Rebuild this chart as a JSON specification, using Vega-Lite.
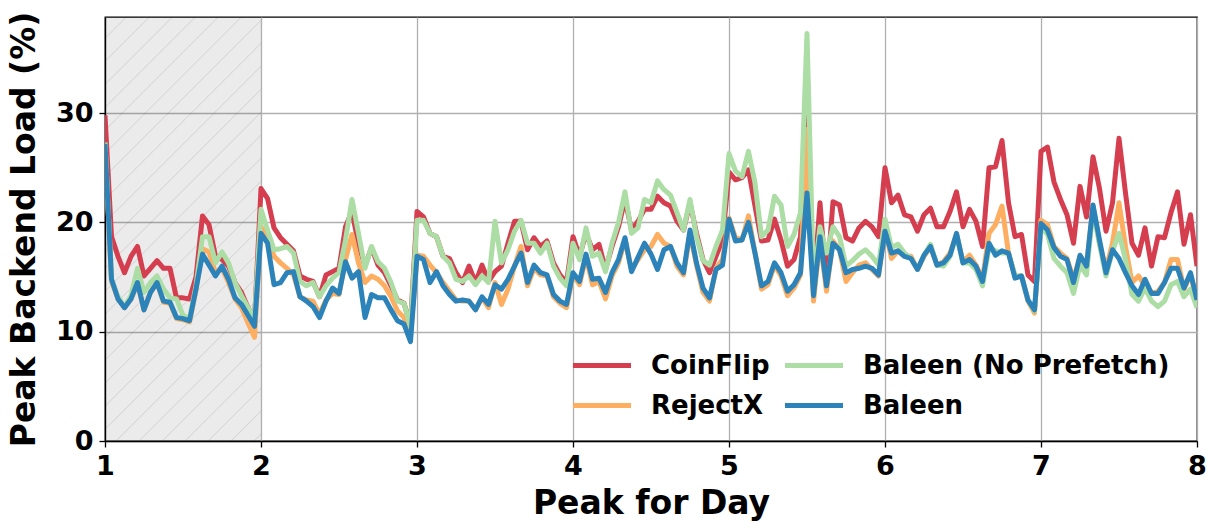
{
  "$schema": "https://vega.github.io/schema/vega-lite/v6.json",
  "width": 1092,
  "height": 424,
  "autosize": {"type": "none"},
  "padding": {"left": 105, "top": 17, "right": 15, "bottom": 82},
  "background": "white",
  "config": {
    "font": "DejaVu Sans",
    "view": {"stroke": "black", "strokeWidth": 1.3},
    "axis": {
      "domainColor": "black",
      "domainWidth": 1.3,
      "tickColor": "black",
      "tickWidth": 1.3,
      "tickSize": 6,
      "labelColor": "black",
      "labelFont": "DejaVu Sans",
      "labelFontWeight": "bold",
      "labelFontSize": 27,
      "labelFlush": false,
      "titleColor": "black",
      "titleFont": "DejaVu Sans",
      "titleFontWeight": "bold",
      "titleFontSize": 33,
      "gridColor": "#b0b0b0",
      "gridWidth": 1.3
    }
  },
  "layer": [
    {
      "data": {"values": [{"start": 0, "end": 24}]},
      "mark": {
        "type": "rect",
        "fill": {
          "gradient": "linear",
          "x1": 0, "y1": 0, "x2": 0.4433, "y2": 1.2048,
          "stops": [
            {"offset": 0, "color": "rgba(0,0,0,0.08)"},
            {"offset": 0.0349, "color": "rgba(0,0,0,0.08)"}, {"offset": 0.0369, "color": "rgba(0,0,0,0.17)"}, {"offset": 0.0389, "color": "rgba(0,0,0,0.08)"},
            {"offset": 0.0745, "color": "rgba(0,0,0,0.08)"}, {"offset": 0.0765, "color": "rgba(0,0,0,0.17)"}, {"offset": 0.0785, "color": "rgba(0,0,0,0.08)"},
            {"offset": 0.1142, "color": "rgba(0,0,0,0.08)"}, {"offset": 0.1162, "color": "rgba(0,0,0,0.17)"}, {"offset": 0.1182, "color": "rgba(0,0,0,0.08)"},
            {"offset": 0.1538, "color": "rgba(0,0,0,0.08)"}, {"offset": 0.1558, "color": "rgba(0,0,0,0.17)"}, {"offset": 0.1578, "color": "rgba(0,0,0,0.08)"},
            {"offset": 0.1934, "color": "rgba(0,0,0,0.08)"}, {"offset": 0.1954, "color": "rgba(0,0,0,0.17)"}, {"offset": 0.1974, "color": "rgba(0,0,0,0.08)"},
            {"offset": 0.2331, "color": "rgba(0,0,0,0.08)"}, {"offset": 0.2351, "color": "rgba(0,0,0,0.17)"}, {"offset": 0.2371, "color": "rgba(0,0,0,0.08)"},
            {"offset": 0.2727, "color": "rgba(0,0,0,0.08)"}, {"offset": 0.2747, "color": "rgba(0,0,0,0.17)"}, {"offset": 0.2767, "color": "rgba(0,0,0,0.08)"},
            {"offset": 0.3123, "color": "rgba(0,0,0,0.08)"}, {"offset": 0.3143, "color": "rgba(0,0,0,0.17)"}, {"offset": 0.3163, "color": "rgba(0,0,0,0.08)"},
            {"offset": 0.3519, "color": "rgba(0,0,0,0.08)"}, {"offset": 0.3539, "color": "rgba(0,0,0,0.17)"}, {"offset": 0.3559, "color": "rgba(0,0,0,0.08)"},
            {"offset": 0.3916, "color": "rgba(0,0,0,0.08)"}, {"offset": 0.3936, "color": "rgba(0,0,0,0.17)"}, {"offset": 0.3956, "color": "rgba(0,0,0,0.08)"},
            {"offset": 0.4312, "color": "rgba(0,0,0,0.08)"}, {"offset": 0.4332, "color": "rgba(0,0,0,0.17)"}, {"offset": 0.4352, "color": "rgba(0,0,0,0.08)"},
            {"offset": 0.4708, "color": "rgba(0,0,0,0.08)"}, {"offset": 0.4728, "color": "rgba(0,0,0,0.17)"}, {"offset": 0.4748, "color": "rgba(0,0,0,0.08)"},
            {"offset": 0.5105, "color": "rgba(0,0,0,0.08)"}, {"offset": 0.5125, "color": "rgba(0,0,0,0.17)"}, {"offset": 0.5145, "color": "rgba(0,0,0,0.08)"},
            {"offset": 0.5501, "color": "rgba(0,0,0,0.08)"}, {"offset": 0.5521, "color": "rgba(0,0,0,0.17)"}, {"offset": 0.5541, "color": "rgba(0,0,0,0.08)"},
            {"offset": 0.5897, "color": "rgba(0,0,0,0.08)"}, {"offset": 0.5917, "color": "rgba(0,0,0,0.17)"}, {"offset": 0.5937, "color": "rgba(0,0,0,0.08)"},
            {"offset": 0.6294, "color": "rgba(0,0,0,0.08)"}, {"offset": 0.6314, "color": "rgba(0,0,0,0.17)"}, {"offset": 0.6334, "color": "rgba(0,0,0,0.08)"},
            {"offset": 0.6690, "color": "rgba(0,0,0,0.08)"}, {"offset": 0.6710, "color": "rgba(0,0,0,0.17)"}, {"offset": 0.6730, "color": "rgba(0,0,0,0.08)"},
            {"offset": 0.7086, "color": "rgba(0,0,0,0.08)"}, {"offset": 0.7106, "color": "rgba(0,0,0,0.17)"}, {"offset": 0.7126, "color": "rgba(0,0,0,0.08)"},
            {"offset": 0.7482, "color": "rgba(0,0,0,0.08)"}, {"offset": 0.7502, "color": "rgba(0,0,0,0.17)"}, {"offset": 0.7522, "color": "rgba(0,0,0,0.08)"},
            {"offset": 0.7879, "color": "rgba(0,0,0,0.08)"}, {"offset": 0.7899, "color": "rgba(0,0,0,0.17)"}, {"offset": 0.7919, "color": "rgba(0,0,0,0.08)"},
            {"offset": 0.8275, "color": "rgba(0,0,0,0.08)"}, {"offset": 0.8295, "color": "rgba(0,0,0,0.17)"}, {"offset": 0.8315, "color": "rgba(0,0,0,0.08)"},
            {"offset": 0.8671, "color": "rgba(0,0,0,0.08)"}, {"offset": 0.8691, "color": "rgba(0,0,0,0.17)"}, {"offset": 0.8711, "color": "rgba(0,0,0,0.08)"},
            {"offset": 0.9068, "color": "rgba(0,0,0,0.08)"}, {"offset": 0.9088, "color": "rgba(0,0,0,0.17)"}, {"offset": 0.9108, "color": "rgba(0,0,0,0.08)"},
            {"offset": 0.9464, "color": "rgba(0,0,0,0.08)"}, {"offset": 0.9484, "color": "rgba(0,0,0,0.17)"}, {"offset": 0.9504, "color": "rgba(0,0,0,0.08)"},
            {"offset": 0.9860, "color": "rgba(0,0,0,0.08)"}, {"offset": 0.9880, "color": "rgba(0,0,0,0.17)"}, {"offset": 0.9900, "color": "rgba(0,0,0,0.08)"},
            {"offset": 1, "color": "rgba(0,0,0,0.08)"}
          ]
        }
      },
      "encoding": {
        "x": {"field": "start", "type": "quantitative"},
        "x2": {"field": "end"}
      }
    },
    {
      "data": {
        "values": [
          {"h": 0, "CoinFlip": 29.8, "RejectX": 27.3, "Baleen (No Prefetch)": 27.3, "Baleen": 27.2},
          {"h": 1, "CoinFlip": 18.7, "RejectX": 14.6, "Baleen (No Prefetch)": 14.8, "Baleen": 14.8},
          {"h": 2, "CoinFlip": 16.9, "RejectX": 13.0, "Baleen (No Prefetch)": 13.2, "Baleen": 13.0},
          {"h": 3, "CoinFlip": 15.4, "RejectX": 12.2, "Baleen (No Prefetch)": 12.3, "Baleen": 12.2},
          {"h": 4, "CoinFlip": 16.9, "RejectX": 13.0, "Baleen (No Prefetch)": 13.3, "Baleen": 13.0},
          {"h": 5, "CoinFlip": 17.8, "RejectX": 14.4, "Baleen (No Prefetch)": 15.8, "Baleen": 14.5},
          {"h": 6, "CoinFlip": 15.1, "RejectX": 12.0, "Baleen (No Prefetch)": 13.6, "Baleen": 12.0},
          {"h": 7, "CoinFlip": 15.8, "RejectX": 13.6, "Baleen (No Prefetch)": 14.5, "Baleen": 13.6},
          {"h": 8, "CoinFlip": 16.5, "RejectX": 14.5, "Baleen (No Prefetch)": 15.1, "Baleen": 14.5},
          {"h": 9, "CoinFlip": 15.8, "RejectX": 12.7, "Baleen (No Prefetch)": 13.9, "Baleen": 12.8},
          {"h": 10, "CoinFlip": 15.8, "RejectX": 12.6, "Baleen (No Prefetch)": 13.1, "Baleen": 12.7},
          {"h": 11, "CoinFlip": 13.1, "RejectX": 11.2, "Baleen (No Prefetch)": 13.0, "Baleen": 11.3},
          {"h": 12, "CoinFlip": 13.1, "RejectX": 11.1, "Baleen (No Prefetch)": 11.5, "Baleen": 11.2},
          {"h": 13, "CoinFlip": 13.0, "RejectX": 10.9, "Baleen (No Prefetch)": 11.2, "Baleen": 11.0},
          {"h": 14, "CoinFlip": 15.0, "RejectX": 13.8, "Baleen (No Prefetch)": 14.2, "Baleen": 13.9},
          {"h": 15, "CoinFlip": 20.6, "RejectX": 17.6, "Baleen (No Prefetch)": 18.7, "Baleen": 17.1},
          {"h": 16, "CoinFlip": 19.8, "RejectX": 17.3, "Baleen (No Prefetch)": 18.7, "Baleen": 16.1},
          {"h": 17, "CoinFlip": 16.9, "RejectX": 15.4, "Baleen (No Prefetch)": 16.3, "Baleen": 15.1},
          {"h": 18, "CoinFlip": 16.6, "RejectX": 15.8, "Baleen (No Prefetch)": 17.3, "Baleen": 16.0},
          {"h": 19, "CoinFlip": 16.0, "RejectX": 14.5, "Baleen (No Prefetch)": 16.3, "Baleen": 14.8},
          {"h": 20, "CoinFlip": 14.5, "RejectX": 13.0, "Baleen (No Prefetch)": 14.5, "Baleen": 13.1},
          {"h": 21, "CoinFlip": 13.6, "RejectX": 12.2, "Baleen (No Prefetch)": 13.3, "Baleen": 12.5},
          {"h": 22, "CoinFlip": 12.2, "RejectX": 10.8, "Baleen (No Prefetch)": 12.2, "Baleen": 11.5},
          {"h": 23, "CoinFlip": 11.0, "RejectX": 9.5, "Baleen (No Prefetch)": 11.2, "Baleen": 10.5},
          {"h": 24, "CoinFlip": 23.1, "RejectX": 19.6, "Baleen (No Prefetch)": 21.2, "Baleen": 19.0},
          {"h": 25, "CoinFlip": 22.2, "RejectX": 18.7, "Baleen (No Prefetch)": 19.3, "Baleen": 18.1},
          {"h": 26, "CoinFlip": 19.5, "RejectX": 16.9, "Baleen (No Prefetch)": 17.5, "Baleen": 14.3},
          {"h": 27, "CoinFlip": 18.6, "RejectX": 16.3, "Baleen (No Prefetch)": 17.6, "Baleen": 14.5},
          {"h": 28, "CoinFlip": 18.0, "RejectX": 15.8, "Baleen (No Prefetch)": 17.8, "Baleen": 15.4},
          {"h": 29, "CoinFlip": 17.4, "RejectX": 15.2, "Baleen (No Prefetch)": 17.2, "Baleen": 15.5},
          {"h": 30, "CoinFlip": 15.1, "RejectX": 13.2, "Baleen (No Prefetch)": 14.6, "Baleen": 13.2},
          {"h": 31, "CoinFlip": 14.8, "RejectX": 12.9, "Baleen (No Prefetch)": 14.2, "Baleen": 12.8},
          {"h": 32, "CoinFlip": 14.6, "RejectX": 12.8, "Baleen (No Prefetch)": 14.5, "Baleen": 12.3},
          {"h": 33, "CoinFlip": 13.2, "RejectX": 11.6, "Baleen (No Prefetch)": 13.2, "Baleen": 11.3},
          {"h": 34, "CoinFlip": 15.2, "RejectX": 12.9, "Baleen (No Prefetch)": 14.2, "Baleen": 12.8},
          {"h": 35, "CoinFlip": 15.5, "RejectX": 13.5, "Baleen (No Prefetch)": 14.9, "Baleen": 14.0},
          {"h": 36, "CoinFlip": 15.8, "RejectX": 13.4, "Baleen (No Prefetch)": 15.4, "Baleen": 13.5},
          {"h": 37, "CoinFlip": 19.6, "RejectX": 16.6, "Baleen (No Prefetch)": 18.4, "Baleen": 16.4},
          {"h": 38, "CoinFlip": 21.0, "RejectX": 18.9, "Baleen (No Prefetch)": 22.1, "Baleen": 14.9},
          {"h": 39, "CoinFlip": 18.0, "RejectX": 16.3, "Baleen (No Prefetch)": 19.0, "Baleen": 15.5},
          {"h": 40, "CoinFlip": 16.0, "RejectX": 14.5, "Baleen (No Prefetch)": 15.8, "Baleen": 11.3},
          {"h": 41, "CoinFlip": 17.7, "RejectX": 15.1, "Baleen (No Prefetch)": 17.8, "Baleen": 13.4},
          {"h": 42, "CoinFlip": 16.1, "RejectX": 14.8, "Baleen (No Prefetch)": 16.4, "Baleen": 13.1},
          {"h": 43, "CoinFlip": 15.4, "RejectX": 14.2, "Baleen (No Prefetch)": 15.8, "Baleen": 13.1},
          {"h": 44, "CoinFlip": 14.2, "RejectX": 13.2, "Baleen (No Prefetch)": 14.5, "Baleen": 12.0},
          {"h": 45, "CoinFlip": 12.9, "RejectX": 11.9, "Baleen (No Prefetch)": 12.8, "Baleen": 11.0},
          {"h": 46, "CoinFlip": 12.6, "RejectX": 11.3, "Baleen (No Prefetch)": 12.6, "Baleen": 10.7},
          {"h": 47, "CoinFlip": 10.6, "RejectX": 9.7, "Baleen (No Prefetch)": 10.5, "Baleen": 9.1},
          {"h": 48, "CoinFlip": 21.0, "RejectX": 17.0, "Baleen (No Prefetch)": 20.2, "Baleen": 16.9},
          {"h": 49, "CoinFlip": 20.5, "RejectX": 16.9, "Baleen (No Prefetch)": 20.2, "Baleen": 16.6},
          {"h": 50, "CoinFlip": 19.0, "RejectX": 16.1, "Baleen (No Prefetch)": 19.0, "Baleen": 14.5},
          {"h": 51, "CoinFlip": 18.7, "RejectX": 15.4, "Baleen (No Prefetch)": 18.7, "Baleen": 15.5},
          {"h": 52, "CoinFlip": 16.9, "RejectX": 14.5, "Baleen (No Prefetch)": 16.9, "Baleen": 14.2},
          {"h": 53, "CoinFlip": 16.7, "RejectX": 13.7, "Baleen (No Prefetch)": 16.3, "Baleen": 13.4},
          {"h": 54, "CoinFlip": 15.4, "RejectX": 12.9, "Baleen (No Prefetch)": 14.8, "Baleen": 12.8},
          {"h": 55, "CoinFlip": 14.5, "RejectX": 12.8, "Baleen (No Prefetch)": 14.6, "Baleen": 12.9},
          {"h": 56, "CoinFlip": 16.0, "RejectX": 12.8, "Baleen (No Prefetch)": 15.1, "Baleen": 12.8},
          {"h": 57, "CoinFlip": 14.5, "RejectX": 12.0, "Baleen (No Prefetch)": 14.3, "Baleen": 12.0},
          {"h": 58, "CoinFlip": 16.1, "RejectX": 13.1, "Baleen (No Prefetch)": 15.1, "Baleen": 13.2},
          {"h": 59, "CoinFlip": 14.6, "RejectX": 12.2, "Baleen (No Prefetch)": 14.5, "Baleen": 12.5},
          {"h": 60, "CoinFlip": 15.5, "RejectX": 14.5, "Baleen (No Prefetch)": 20.1, "Baleen": 14.3},
          {"h": 61, "CoinFlip": 16.0, "RejectX": 12.5, "Baleen (No Prefetch)": 16.3, "Baleen": 13.9},
          {"h": 62, "CoinFlip": 18.1, "RejectX": 13.9, "Baleen (No Prefetch)": 17.5, "Baleen": 14.8},
          {"h": 63, "CoinFlip": 20.1, "RejectX": 16.0, "Baleen (No Prefetch)": 19.2, "Baleen": 16.0},
          {"h": 64, "CoinFlip": 20.1, "RejectX": 17.8, "Baleen (No Prefetch)": 20.2, "Baleen": 17.2},
          {"h": 65, "CoinFlip": 17.5, "RejectX": 14.2, "Baleen (No Prefetch)": 18.1, "Baleen": 14.5},
          {"h": 66, "CoinFlip": 18.6, "RejectX": 15.8, "Baleen (No Prefetch)": 18.1, "Baleen": 16.1},
          {"h": 67, "CoinFlip": 17.8, "RejectX": 15.2, "Baleen (No Prefetch)": 17.2, "Baleen": 15.4},
          {"h": 68, "CoinFlip": 18.3, "RejectX": 15.1, "Baleen (No Prefetch)": 18.1, "Baleen": 15.2},
          {"h": 69, "CoinFlip": 16.3, "RejectX": 13.2, "Baleen (No Prefetch)": 16.0, "Baleen": 13.4},
          {"h": 70, "CoinFlip": 15.2, "RejectX": 12.6, "Baleen (No Prefetch)": 14.9, "Baleen": 12.8},
          {"h": 71, "CoinFlip": 14.5, "RejectX": 12.2, "Baleen (No Prefetch)": 14.2, "Baleen": 12.5},
          {"h": 72, "CoinFlip": 18.7, "RejectX": 15.2, "Baleen (No Prefetch)": 18.1, "Baleen": 15.4},
          {"h": 73, "CoinFlip": 16.9, "RejectX": 14.3, "Baleen (No Prefetch)": 16.6, "Baleen": 14.6},
          {"h": 74, "CoinFlip": 19.0, "RejectX": 16.9, "Baleen (No Prefetch)": 19.5, "Baleen": 17.1},
          {"h": 75, "CoinFlip": 17.5, "RejectX": 14.3, "Baleen (No Prefetch)": 16.9, "Baleen": 14.8},
          {"h": 76, "CoinFlip": 18.0, "RejectX": 14.6, "Baleen (No Prefetch)": 17.2, "Baleen": 14.9},
          {"h": 77, "CoinFlip": 15.7, "RejectX": 13.0, "Baleen (No Prefetch)": 15.5, "Baleen": 13.6},
          {"h": 78, "CoinFlip": 17.8, "RejectX": 15.1, "Baleen (No Prefetch)": 18.1, "Baleen": 15.4},
          {"h": 79, "CoinFlip": 19.6, "RejectX": 16.3, "Baleen (No Prefetch)": 20.0, "Baleen": 16.6},
          {"h": 80, "CoinFlip": 22.1, "RejectX": 18.4, "Baleen (No Prefetch)": 22.8, "Baleen": 18.6},
          {"h": 81, "CoinFlip": 19.3, "RejectX": 15.7, "Baleen (No Prefetch)": 19.0, "Baleen": 15.5},
          {"h": 82, "CoinFlip": 20.1, "RejectX": 16.6, "Baleen (No Prefetch)": 19.5, "Baleen": 16.8},
          {"h": 83, "CoinFlip": 21.2, "RejectX": 17.5, "Baleen (No Prefetch)": 22.1, "Baleen": 18.1},
          {"h": 84, "CoinFlip": 21.2, "RejectX": 17.8, "Baleen (No Prefetch)": 21.8, "Baleen": 17.1},
          {"h": 85, "CoinFlip": 22.4, "RejectX": 18.9, "Baleen (No Prefetch)": 23.8, "Baleen": 15.7},
          {"h": 86, "CoinFlip": 21.8, "RejectX": 18.1, "Baleen (No Prefetch)": 23.0, "Baleen": 17.5},
          {"h": 87, "CoinFlip": 21.5, "RejectX": 17.8, "Baleen (No Prefetch)": 22.5, "Baleen": 17.8},
          {"h": 88, "CoinFlip": 20.1, "RejectX": 16.0, "Baleen (No Prefetch)": 20.9, "Baleen": 16.3},
          {"h": 89, "CoinFlip": 19.3, "RejectX": 15.2, "Baleen (No Prefetch)": 19.3, "Baleen": 15.4},
          {"h": 90, "CoinFlip": 21.8, "RejectX": 19.0, "Baleen (No Prefetch)": 22.1, "Baleen": 19.3},
          {"h": 91, "CoinFlip": 19.0, "RejectX": 16.1, "Baleen (No Prefetch)": 18.7, "Baleen": 16.3},
          {"h": 92, "CoinFlip": 16.6, "RejectX": 13.6, "Baleen (No Prefetch)": 16.5, "Baleen": 14.0},
          {"h": 93, "CoinFlip": 15.4, "RejectX": 12.8, "Baleen (No Prefetch)": 16.1, "Baleen": 13.1},
          {"h": 94, "CoinFlip": 16.9, "RejectX": 15.8, "Baleen (No Prefetch)": 17.8, "Baleen": 15.7},
          {"h": 95, "CoinFlip": 18.4, "RejectX": 16.6, "Baleen (No Prefetch)": 19.3, "Baleen": 16.1},
          {"h": 96, "CoinFlip": 24.6, "RejectX": 20.4, "Baleen (No Prefetch)": 26.3, "Baleen": 20.3},
          {"h": 97, "CoinFlip": 23.9, "RejectX": 18.6, "Baleen (No Prefetch)": 24.7, "Baleen": 18.3},
          {"h": 98, "CoinFlip": 24.1, "RejectX": 18.4, "Baleen (No Prefetch)": 24.2, "Baleen": 18.4},
          {"h": 99, "CoinFlip": 24.8, "RejectX": 20.6, "Baleen (No Prefetch)": 26.5, "Baleen": 20.0},
          {"h": 100, "CoinFlip": 21.5, "RejectX": 17.2, "Baleen (No Prefetch)": 23.6, "Baleen": 17.2},
          {"h": 101, "CoinFlip": 18.3, "RejectX": 13.9, "Baleen (No Prefetch)": 18.7, "Baleen": 14.2},
          {"h": 102, "CoinFlip": 18.4, "RejectX": 14.3, "Baleen (No Prefetch)": 19.3, "Baleen": 14.6},
          {"h": 103, "CoinFlip": 20.3, "RejectX": 16.1, "Baleen (No Prefetch)": 22.4, "Baleen": 16.3},
          {"h": 104, "CoinFlip": 18.4, "RejectX": 15.1, "Baleen (No Prefetch)": 21.6, "Baleen": 15.4},
          {"h": 105, "CoinFlip": 16.0, "RejectX": 13.3, "Baleen (No Prefetch)": 17.8, "Baleen": 13.7},
          {"h": 106, "CoinFlip": 16.6, "RejectX": 14.0, "Baleen (No Prefetch)": 18.9, "Baleen": 14.3},
          {"h": 107, "CoinFlip": 18.7, "RejectX": 15.2, "Baleen (No Prefetch)": 20.9, "Baleen": 15.4},
          {"h": 108, "CoinFlip": 30.0, "RejectX": 28.5, "Baleen (No Prefetch)": 37.3, "Baleen": 22.7},
          {"h": 109, "CoinFlip": 13.8, "RejectX": 12.8, "Baleen (No Prefetch)": 14.5, "Baleen": 13.3},
          {"h": 110, "CoinFlip": 21.8, "RejectX": 18.4, "Baleen (No Prefetch)": 19.6, "Baleen": 18.7},
          {"h": 111, "CoinFlip": 14.2, "RejectX": 13.7, "Baleen (No Prefetch)": 17.2, "Baleen": 14.2},
          {"h": 112, "CoinFlip": 21.9, "RejectX": 18.3, "Baleen (No Prefetch)": 19.6, "Baleen": 18.1},
          {"h": 113, "CoinFlip": 21.6, "RejectX": 17.5, "Baleen (No Prefetch)": 18.7, "Baleen": 17.5},
          {"h": 114, "CoinFlip": 18.6, "RejectX": 14.6, "Baleen (No Prefetch)": 16.0, "Baleen": 15.4},
          {"h": 115, "CoinFlip": 18.3, "RejectX": 15.4, "Baleen (No Prefetch)": 16.5, "Baleen": 15.7},
          {"h": 116, "CoinFlip": 19.5, "RejectX": 16.1, "Baleen (No Prefetch)": 17.1, "Baleen": 15.8},
          {"h": 117, "CoinFlip": 20.1, "RejectX": 16.3, "Baleen (No Prefetch)": 17.5, "Baleen": 16.0},
          {"h": 118, "CoinFlip": 19.6, "RejectX": 15.7, "Baleen (No Prefetch)": 16.9, "Baleen": 15.8},
          {"h": 119, "CoinFlip": 18.7, "RejectX": 15.1, "Baleen (No Prefetch)": 16.1, "Baleen": 15.2},
          {"h": 120, "CoinFlip": 25.0, "RejectX": 19.5, "Baleen (No Prefetch)": 20.3, "Baleen": 19.2},
          {"h": 121, "CoinFlip": 21.8, "RejectX": 16.7, "Baleen (No Prefetch)": 17.7, "Baleen": 17.2},
          {"h": 122, "CoinFlip": 22.5, "RejectX": 17.4, "Baleen (No Prefetch)": 18.0, "Baleen": 17.4},
          {"h": 123, "CoinFlip": 20.7, "RejectX": 16.9, "Baleen (No Prefetch)": 17.2, "Baleen": 16.9},
          {"h": 124, "CoinFlip": 20.5, "RejectX": 16.9, "Baleen (No Prefetch)": 16.7, "Baleen": 16.7},
          {"h": 125, "CoinFlip": 19.2, "RejectX": 15.7, "Baleen (No Prefetch)": 15.7, "Baleen": 15.7},
          {"h": 126, "CoinFlip": 20.7, "RejectX": 16.9, "Baleen (No Prefetch)": 17.0, "Baleen": 17.0},
          {"h": 127, "CoinFlip": 21.3, "RejectX": 17.8, "Baleen (No Prefetch)": 18.0, "Baleen": 17.8},
          {"h": 128, "CoinFlip": 19.6, "RejectX": 16.1, "Baleen (No Prefetch)": 16.1, "Baleen": 16.1},
          {"h": 129, "CoinFlip": 19.6, "RejectX": 16.4, "Baleen (No Prefetch)": 16.0, "Baleen": 16.3},
          {"h": 130, "CoinFlip": 21.0, "RejectX": 17.2, "Baleen (No Prefetch)": 16.9, "Baleen": 17.0},
          {"h": 131, "CoinFlip": 22.8, "RejectX": 18.9, "Baleen (No Prefetch)": 18.9, "Baleen": 19.0},
          {"h": 132, "CoinFlip": 19.6, "RejectX": 16.4, "Baleen (No Prefetch)": 16.3, "Baleen": 16.3},
          {"h": 133, "CoinFlip": 21.2, "RejectX": 17.0, "Baleen (No Prefetch)": 16.3, "Baleen": 16.6},
          {"h": 134, "CoinFlip": 20.1, "RejectX": 16.1, "Baleen (No Prefetch)": 15.7, "Baleen": 16.0},
          {"h": 135, "CoinFlip": 17.8, "RejectX": 14.8, "Baleen (No Prefetch)": 14.2, "Baleen": 14.6},
          {"h": 136, "CoinFlip": 25.0, "RejectX": 19.0, "Baleen (No Prefetch)": 17.7, "Baleen": 18.1},
          {"h": 137, "CoinFlip": 25.1, "RejectX": 19.8, "Baleen (No Prefetch)": 17.4, "Baleen": 17.0},
          {"h": 138, "CoinFlip": 27.5, "RejectX": 21.5, "Baleen (No Prefetch)": 17.2, "Baleen": 17.4},
          {"h": 139, "CoinFlip": 21.8, "RejectX": 17.2, "Baleen (No Prefetch)": 17.2, "Baleen": 17.2},
          {"h": 140, "CoinFlip": 18.7, "RejectX": 15.1, "Baleen (No Prefetch)": 15.1, "Baleen": 14.9},
          {"h": 141, "CoinFlip": 18.9, "RejectX": 15.1, "Baleen (No Prefetch)": 15.1, "Baleen": 15.1},
          {"h": 142, "CoinFlip": 15.2, "RejectX": 12.8, "Baleen (No Prefetch)": 12.9, "Baleen": 12.9},
          {"h": 143, "CoinFlip": 14.6, "RejectX": 11.7, "Baleen (No Prefetch)": 11.9, "Baleen": 12.0},
          {"h": 144, "CoinFlip": 26.5, "RejectX": 20.2, "Baleen (No Prefetch)": 19.6, "Baleen": 19.9},
          {"h": 145, "CoinFlip": 26.9, "RejectX": 19.8, "Baleen (No Prefetch)": 18.9, "Baleen": 19.3},
          {"h": 146, "CoinFlip": 23.7, "RejectX": 17.8, "Baleen (No Prefetch)": 16.7, "Baleen": 17.7},
          {"h": 147, "CoinFlip": 22.1, "RejectX": 17.2, "Baleen (No Prefetch)": 16.0, "Baleen": 16.9},
          {"h": 148, "CoinFlip": 20.7, "RejectX": 16.7, "Baleen (No Prefetch)": 15.4, "Baleen": 16.6},
          {"h": 149, "CoinFlip": 18.1, "RejectX": 14.8, "Baleen (No Prefetch)": 13.5, "Baleen": 14.5},
          {"h": 150, "CoinFlip": 23.3, "RejectX": 16.9, "Baleen (No Prefetch)": 16.1, "Baleen": 17.0},
          {"h": 151, "CoinFlip": 20.5, "RejectX": 16.0, "Baleen (No Prefetch)": 15.2, "Baleen": 16.0},
          {"h": 152, "CoinFlip": 26.0, "RejectX": 21.5, "Baleen (No Prefetch)": 21.2, "Baleen": 21.6},
          {"h": 153, "CoinFlip": 23.1, "RejectX": 18.1, "Baleen (No Prefetch)": 18.0, "Baleen": 18.4},
          {"h": 154, "CoinFlip": 19.2, "RejectX": 15.7, "Baleen (No Prefetch)": 15.1, "Baleen": 15.4},
          {"h": 155, "CoinFlip": 21.8, "RejectX": 18.1, "Baleen (No Prefetch)": 17.4, "Baleen": 17.5},
          {"h": 156, "CoinFlip": 27.7, "RejectX": 21.8, "Baleen (No Prefetch)": 19.0, "Baleen": 16.7},
          {"h": 157, "CoinFlip": 22.7, "RejectX": 17.8, "Baleen (No Prefetch)": 16.6, "Baleen": 15.4},
          {"h": 158, "CoinFlip": 18.1, "RejectX": 14.5, "Baleen (No Prefetch)": 13.4, "Baleen": 14.2},
          {"h": 159, "CoinFlip": 17.0, "RejectX": 15.1, "Baleen (No Prefetch)": 12.8, "Baleen": 13.4},
          {"h": 160, "CoinFlip": 19.5, "RejectX": 14.2, "Baleen (No Prefetch)": 14.0, "Baleen": 14.8},
          {"h": 161, "CoinFlip": 16.0, "RejectX": 13.5, "Baleen (No Prefetch)": 12.8, "Baleen": 13.5},
          {"h": 162, "CoinFlip": 18.7, "RejectX": 13.7, "Baleen (No Prefetch)": 12.3, "Baleen": 13.5},
          {"h": 163, "CoinFlip": 18.6, "RejectX": 14.5, "Baleen (No Prefetch)": 12.8, "Baleen": 14.5},
          {"h": 164, "CoinFlip": 20.9, "RejectX": 16.6, "Baleen (No Prefetch)": 14.3, "Baleen": 15.8},
          {"h": 165, "CoinFlip": 22.8, "RejectX": 16.6, "Baleen (No Prefetch)": 14.6, "Baleen": 15.8},
          {"h": 166, "CoinFlip": 18.0, "RejectX": 13.9, "Baleen (No Prefetch)": 13.2, "Baleen": 14.0},
          {"h": 167, "CoinFlip": 20.7, "RejectX": 15.2, "Baleen (No Prefetch)": 13.9, "Baleen": 15.4},
          {"h": 168, "CoinFlip": 16.0, "RejectX": 12.9, "Baleen (No Prefetch)": 12.2, "Baleen": 12.9}
        ]
      },
      "transform": [
        {"fold": ["CoinFlip", "RejectX", "Baleen (No Prefetch)", "Baleen"], "as": ["series", "load"]}
      ],
      "mark": {"type": "line", "strokeWidth": 5, "strokeJoin": "round", "clip": true},
      "encoding": {
        "x": {
          "field": "h",
          "type": "quantitative",
          "scale": {"domain": [0, 168], "nice": false, "zero": false},
          "axis": {
            "title": "Peak for Day",
            "values": [0, 24, 48, 72, 96, 120, 144, 168],
            "labelExpr": "format(datum.value / 24 + 1, 'd')",
            "labelPadding": 6,
            "titlePadding": 8,
            "grid": true
          }
        },
        "y": {
          "field": "load",
          "type": "quantitative",
          "scale": {"domain": [0, 38.8], "nice": false},
          "axis": {
            "title": "Peak Backend Load (%)",
            "values": [0, 10, 20, 30],
            "labelPadding": 6,
            "titlePadding": 14,
            "grid": true
          }
        },
        "color": {
          "field": "series",
          "type": "nominal",
          "scale": {
            "domain": ["CoinFlip", "RejectX", "Baleen (No Prefetch)", "Baleen"],
            "range": ["#d53e4f", "#fdae61", "#abdda4", "#2b83ba"]
          },
          "legend": {
            "title": null,
            "orient": "none",
            "legendX": 480,
            "legendY": 331.5,
            "columns": 2,
            "symbolType": "M-2,0H2",
            "symbolSize": 841,
            "symbolStrokeWidth": 5,
            "labelFont": "DejaVu Sans",
            "labelFontWeight": "bold",
            "labelFontSize": 26,
            "labelColor": "black",
            "labelLimit": 500,
            "labelOffset": 32,
            "columnPadding": 5,
            "rowPadding": 10,
            "padding": 0
          }
        }
      }
    }
  ]
}
